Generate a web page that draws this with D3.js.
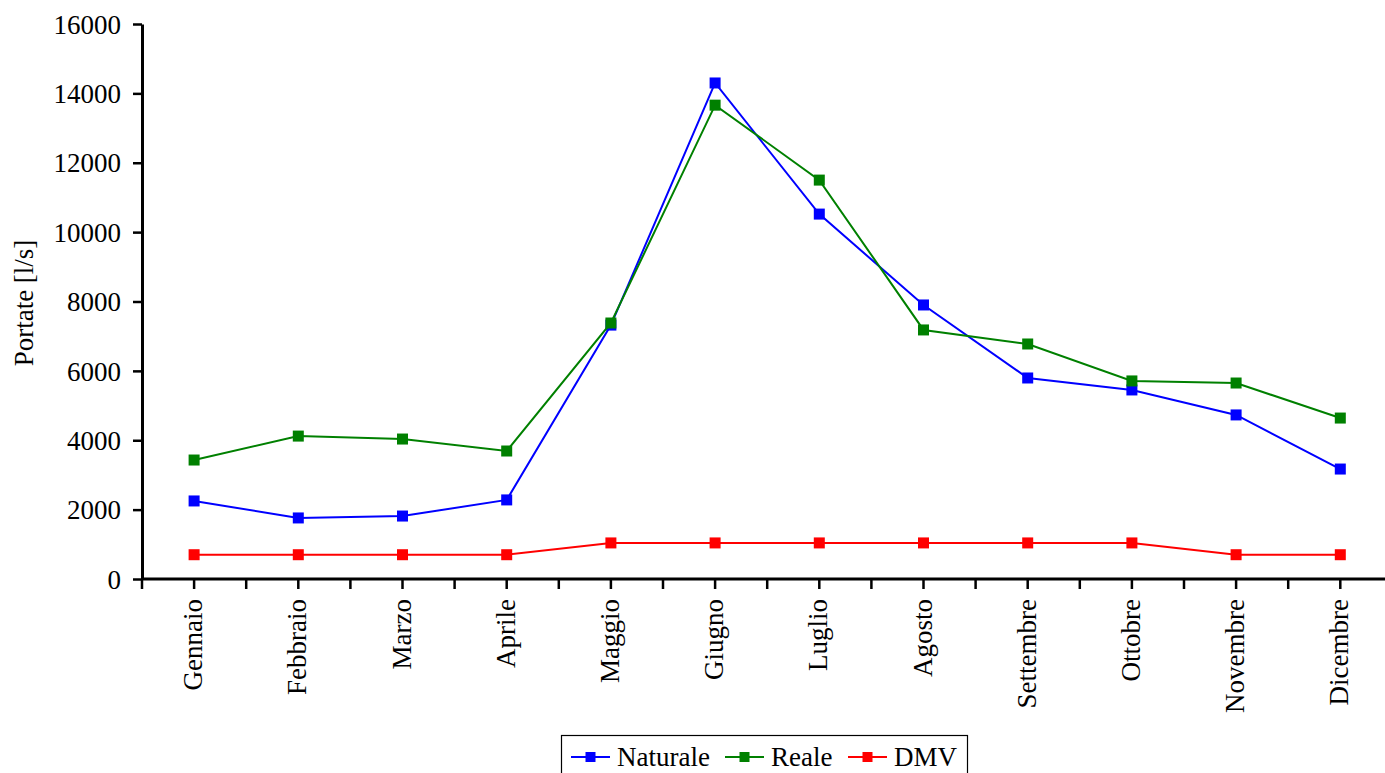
<!DOCTYPE html>
<html><head><meta charset="utf-8">
<script src="https://cdn.jsdelivr.net/npm/d3@7"></script>
<style>body{margin:0;background:#fff;} svg{display:block;} text{font-family:"Liberation Serif",serif;}</style>
</head><body>
<svg id="c" width="1385" height="773" font-family="Liberation Serif"></svg>
<script>
const months = ["Gennaio","Febbraio","Marzo","Aprile","Maggio","Giugno","Luglio","Agosto","Settembre","Ottobre","Novembre","Dicembre"];
const naturale = [2250,1760,1815,2280,7320,14300,10520,7900,5795,5450,4730,3170];
const reale = [3430,4120,4035,3690,7380,13660,11500,7180,6775,5710,5650,4640];
const dmv = [700,700,700,700,1040,1040,1040,1040,1040,1040,700,700];
const yTicks = [0,2000,4000,6000,8000,10000,12000,14000,16000];
const seriesNames = ["Naturale","Reale","DMV"];
const seriesColors = ["#0000ff","#008000","#ff0000"];
const seriesData = [naturale, reale, dmv];

const FS = 27;
const FF = "Liberation Serif";
const svg = d3.select("#c");
const x0 = 142, step = 104.2;
const x = d3.scaleBand().domain(months).range([x0, x0 + step*months.length]).paddingInner(0).paddingOuter(0);
const y = d3.scaleLinear().domain([0,16000]).range([579,24]);

// y axis
const ya = svg.append("g").attr("transform",`translate(${x0},0)`)
  .call(d3.axisLeft(y).tickValues(yTicks).tickSize(9).tickSizeOuter(0).tickFormat(d3.format("d")));
ya.attr("font-family",FF).attr("font-size",FS);
ya.select(".domain").attr("stroke","#000").attr("stroke-width",3);
ya.selectAll(".tick line").attr("stroke","#000").attr("stroke-width",2.5);
ya.selectAll(".tick text").attr("font-family",FF).attr("font-size",FS).attr("fill","#000").attr("x",-21).attr("dy","0.34em");

// x axis
const xg = svg.append("g").attr("transform","translate(0,579)");
xg.append("line").attr("x1",x0-1).attr("x2",x0+step*months.length).attr("y1",0).attr("y2",0).attr("stroke","#000").attr("stroke-width",3);
const tickPos = [];
for (let i=0;i<=months.length*2;i++) tickPos.push(x0 + i*step/2);
xg.selectAll("line.t").data(tickPos).enter().append("line").attr("class","t")
  .attr("x1",d=>d).attr("x2",d=>d).attr("y1",0).attr("y2",10).attr("stroke","#000").attr("stroke-width",2.5);
xg.selectAll("text").data(months).enter().append("text")
  .attr("transform",d=>`translate(${x(d)+x.bandwidth()/2+8},20) rotate(-90)`)
  .attr("text-anchor","end").attr("font-family",FF).attr("font-size",FS).attr("fill","#000").text(d=>d);

// y label
svg.append("text").attr("transform","translate(33,303) rotate(-90)").attr("text-anchor","middle")
  .attr("font-family",FF).attr("font-size",FS).attr("fill","#000").text("Portate [l/s]");

const cx = d => x(d)+x.bandwidth()/2;
seriesData.forEach((vals,si)=>{
  const pts = months.map((m,i)=>[cx(m), y(vals[i])]);
  svg.append("path").attr("d",d3.line()(pts)).attr("fill","none").attr("stroke",seriesColors[si]).attr("stroke-width",2);
  svg.selectAll(null).data(pts).enter().append("rect")
    .attr("x",d=>d[0]-5.5).attr("y",d=>d[1]-5.5).attr("width",11).attr("height",11).attr("fill",seriesColors[si]);
});

// legend
const lg = svg.append("g");
lg.append("rect").attr("x",561.5).attr("y",735.5).attr("width",406).attr("height",45).attr("fill","#fff").attr("stroke","#000").attr("stroke-width",1.2);
const legX = [571, 725, 848];
seriesNames.forEach((n,i)=>{
  const g = lg.append("g").attr("transform",`translate(${legX[i]},757)`);
  g.append("line").attr("x1",0).attr("x2",39).attr("y1",0).attr("y2",0).attr("stroke",seriesColors[i]).attr("stroke-width",2);
  g.append("rect").attr("x",14.5).attr("y",-5).attr("width",10).attr("height",10).attr("fill",seriesColors[i]);
  g.append("text").attr("x",46).attr("y",9).attr("font-family",FF).attr("font-size",FS).attr("fill","#000").text(n);
});
</script>
</body></html>
